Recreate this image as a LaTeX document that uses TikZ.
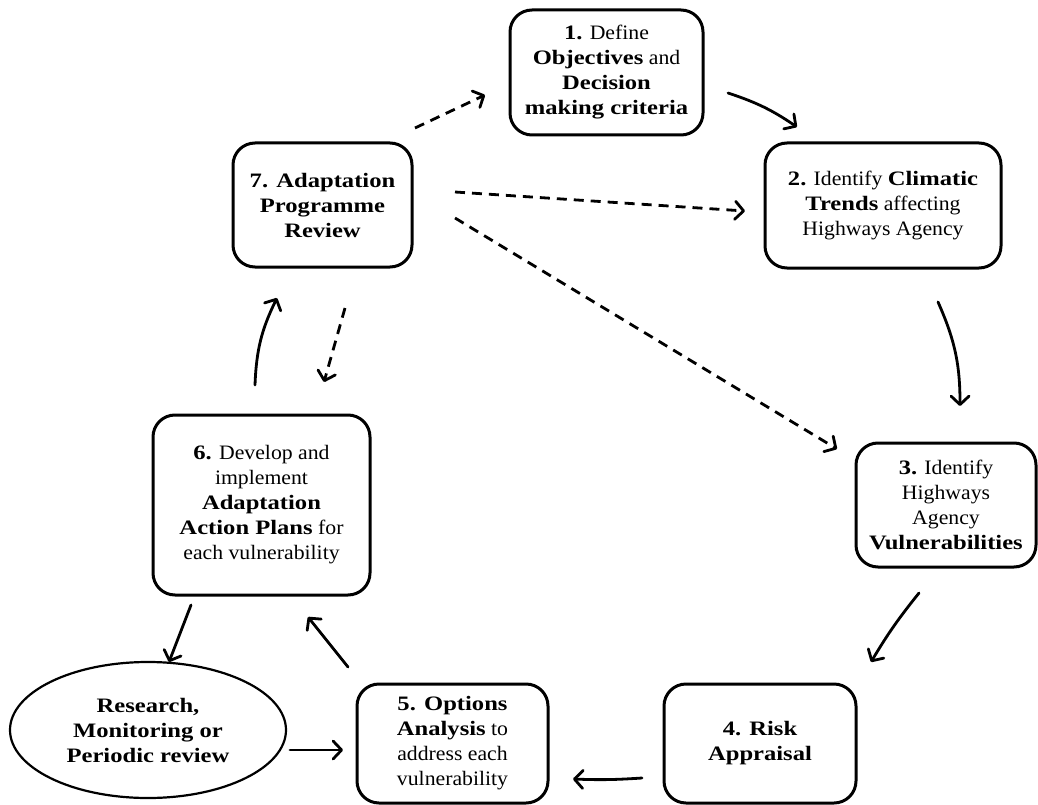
\documentclass[tikz,border=0pt]{standalone}
\usepackage{fontspec}
\setmainfont{Liberation Serif}[FakeStretch=1.06, BoldFeatures={FakeStretch=1.2}]
\usetikzlibrary{arrows.meta,shapes.geometric}

\begin{document}
\begin{tikzpicture}[x=1pt,y=-1pt,
  stage/.style={draw, line width=3pt, rounded corners=22pt, align=center,
    inner sep=0pt, font=\fontsize{20.5}{25}\selectfont},
  oval/.style={draw, ellipse, line width=2.2pt, align=center, inner sep=0pt,
    font=\fontsize{20.5}{25}\selectfont\bfseries},
  flow/.style={line width=2.8pt, line cap=round,
    -{Straight Barb[length=8.5pt,width=18pt,line width=2.8pt,round]}},
  review/.style={flow, dash pattern=on 10pt off 7pt, line cap=butt}
]
\useasboundingbox (0,0) rectangle (1038,805);

% stages of the adaptation cycle
\node[stage, minimum width=193pt, minimum height=125pt] (s1) at (606.5,72.5)
  {\textbf{1.} Define\\ \textbf{Objectives} and\\ \textbf{Decision}\\ \textbf{making criteria}};
\node[stage, minimum width=236pt, minimum height=125pt] (s2) at (883,205.5)
  {\textbf{2.} Identify \textbf{Climatic}\\ \textbf{Trends} affecting\\ Highways Agency};
\node[stage, minimum width=180pt, minimum height=124pt] (s3) at (946,505)
  {\textbf{3.} Identify\\ Highways\\ Agency\\ \textbf{Vulnerabilities}};
\node[stage, minimum width=192pt, minimum height=119pt] (s4) at (760,743.5)
  {\textbf{4. Risk}\\ \textbf{Appraisal}};
\node[stage, minimum width=191pt, minimum height=119pt] (s5) at (452.5,743.5)
  {\textbf{5. Options}\\ \textbf{Analysis} to\\ address each\\ vulnerability};
\node[stage, minimum width=217pt, minimum height=180pt] (s6) at (261.5,505)
  {\textbf{6.} Develop and\\ implement\\ \textbf{Adaptation}\\ \textbf{Action Plans} for\\ each vulnerability};
\node[stage, minimum width=179pt, minimum height=124pt] (s7) at (322.5,205)
  {\textbf{7. Adaptation}\\ \textbf{Programme}\\ \textbf{Review}};
\node[oval, minimum width=276pt, minimum height=136pt] (rm) at (148,730)
  {Research,\\ Monitoring or\\ Periodic review};

% arrow end points between the stages
\coordinate (a12s) at (728,93);   \coordinate (a12e) at (797,127);
\coordinate (a23s) at (938,302);  \coordinate (a23e) at (960,406);
\coordinate (a34s) at (919,593);  \coordinate (a34e) at (871,662);
\coordinate (a45s) at (642,778);  \coordinate (a45e) at (573,779);
\coordinate (a56s) at (348,667);  \coordinate (a56e) at (308,617);
\coordinate (a6rs) at (191,605);  \coordinate (a6re) at (169,662);
\coordinate (ar5s) at (290,750);  \coordinate (ar5e) at (343,750);
\coordinate (a67s) at (255,385);  \coordinate (a67e) at (277,298);
\coordinate (a71s) at (415,128);  \coordinate (a71e) at (485,95);
\coordinate (a72s) at (455,192);  \coordinate (a72e) at (745,211);
\coordinate (a73s) at (455,218);  \coordinate (a73e) at (837,449);
\coordinate (a76s) at (345,308);  \coordinate (a76e) at (324,382);

% main cycle
\draw[flow] (a12s) to[bend left=8] (a12e);
\draw[flow] (a23s) to[bend left=12] (a23e);
\draw[flow] (a34s) to[bend right=4] (a34e);
\draw[flow] (a45s) to[bend left=3] (a45e);
\draw[flow] (a56s) -- (a56e);
\draw[flow] (a6rs) -- (a6re);
\draw[flow] (ar5s) -- (ar5e);
\draw[flow] (a67s) to[bend left=12] (a67e);

% review paths
\draw[review] (a71s) -- (a71e);
\draw[review] (a72s) -- (a72e);
\draw[review] (a73s) -- (a73e);
\draw[review] (a76s) -- (a76e);
\end{tikzpicture}
\end{document}
